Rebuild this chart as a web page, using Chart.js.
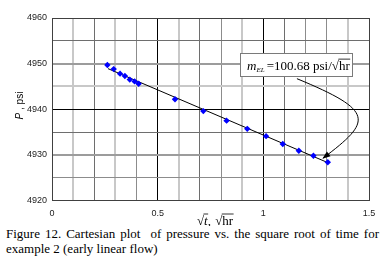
<!DOCTYPE html>
<html>
<head>
<meta charset="utf-8">
<script src="https://cdn.jsdelivr.net/npm/chart.js@4.4.0/dist/chart.umd.min.js"></script>
<style>
  body { margin: 0; background: #fff; }
  #wrap { position: relative; width: 390px; height: 267px; }
  #chart { position: absolute; left: 0; top: 0; }
  .cap { position: absolute; left: 6px; width: 373px; font: 13px 'Liberation Serif', 'Times New Roman', serif; line-height: 15.4px; color: #000; white-space: nowrap; }
  #cap1 { top: 226px; text-align: justify; text-align-last: justify; white-space: normal; }
  #cap2 { top: 241.4px; }
</style>
</head>
<body>
<div id="wrap">
  <canvas id="chart" width="390" height="226"></canvas>
  <div class="cap" id="cap1">Figure 12. Cartesian plot &nbsp;of pressure vs. the square root of time for</div>
  <div class="cap" id="cap2">example 2 (early linear flow)</div>
</div>
<script>
// measured points (sqrt hr, psi)
const sqrtT = [0.262, 0.292, 0.322, 0.345, 0.368, 0.391, 0.410, 0.582, 0.716, 0.826, 0.924, 1.013, 1.092, 1.168, 1.237, 1.305];
const pressure = [4949.7, 4948.8, 4947.8, 4947.3, 4946.5, 4946.1, 4945.6, 4942.2, 4939.6, 4937.5, 4935.7, 4934.1, 4932.4, 4930.9, 4929.8, 4928.4];

// straight line fit drawn through the early points
const fitX = [0.265, 1.305];
const fitY = [4948.9, 4928.3];

const xTicks = [0, 0.5, 1, 1.5];
const xTickLabels = ['0', '0.5', '1', '1.5'];
const yTicks = [4920, 4930, 4940, 4950, 4960];
const yTickLabels = ['4920', '4930', '4940', '4950', '4960'];

const slopeLabel = '=100.68 psi/';

// grid tones (the scanned figure has uneven grid lines)
const tones = {
    L: ['#c8c8c8', 2], D: ['#6e6e6e', 1], M: ['#8c8c8c', 1], W: ['#9c9c9c', 2], K: ['#000000', 1], E: ['#404040', 1]
};
const xTone = 'ELDLMKLDMLKDMMLE';
const yTone = { 4920: 'E', 4925: 'M', 4930: 'W', 4935: 'D', 4940: 'K', 4945: 'L', 4950: 'W', 4955: 'D', 4960: 'E' };
function gridStyle(axis, v, i) {
    const t = axis === 'x' ? xTone[Math.round(v * 10)] : yTone[Math.round(v)];
    return tones[t || 'M'][i];
}

function labelFor(ticks, labels, v) {
    const i = ticks.findIndex(t => Math.abs(t - v) < 1e-6);
    return i < 0 ? '' : labels[i];
}

// draws a square-root sign with overline, returns end x
function drawRoot(ctx, x0, base, text, font) {
    ctx.font = font;
    const rw = ctx.measureText('\u221A').width;
    const asc = ctx.measureText('\u221A').actualBoundingBoxAscent;
    ctx.fillText('\u221A', x0, base);
    const tw = ctx.measureText(text).width;
    ctx.fillText(text, x0 + rw, base);
    ctx.beginPath();
    ctx.lineWidth = 0.8;
    ctx.moveTo(x0 + rw - 0.5, base - asc + 0.5);
    ctx.lineTo(x0 + rw + tw + 0.5, base - asc + 0.5);
    ctx.stroke();
    return x0 + rw + tw;
}

const decor = {
    id: 'decor',
    afterDraw(chart) {
        const ctx = chart.ctx;
        const xs = chart.scales.x, ys = chart.scales.y;
        const px = v => xs.getPixelForValue(v);
        const py = v => ys.getPixelForValue(v);
        ctx.save();
        ctx.fillStyle = '#000';
        ctx.strokeStyle = '#000';
        ctx.textBaseline = 'alphabetic';

        // y title
        ctx.save();
        ctx.translate(22.5, 105.5);
        ctx.rotate(-Math.PI / 2);
        ctx.font = 'italic 10px "Liberation Sans", Arial';
        const pw = ctx.measureText('P').width;
        ctx.font = '10px "Liberation Sans", Arial';
        const rest = ' , psi';
        const totw = pw + ctx.measureText(rest).width;
        ctx.font = 'italic 10px "Liberation Sans", Arial';
        ctx.fillText('P', -totw / 2, 0);
        ctx.font = '10px "Liberation Sans", Arial';
        ctx.fillText(rest, -totw / 2 + pw, 0);
        ctx.restore();

        // x title
        const serif = '"Liberation Serif", "Times New Roman", serif';
        ctx.font = '13px ' + serif;
        const rootW = ctx.measureText('\u221A').width;
        ctx.font = 'italic 13px ' + serif;
        const tW = ctx.measureText('t').width;
        ctx.font = '13px ' + serif;
        const sepW = ctx.measureText(', ').width + 1;
        const hrW = ctx.measureText('hr').width;
        const full = rootW * 2 + tW + sepW + hrW;
        let cx = 215 - full / 2;
        const tb = 224.5;
        cx = drawRoot(ctx, cx, tb, 't', 'italic 13px ' + serif);
        ctx.font = '13px ' + serif;
        ctx.fillText(',', cx, tb);
        cx += sepW;
        drawRoot(ctx, cx, tb, 'hr', '13px ' + serif);

        // annotation box
        const bx0 = px(0.890), by0 = py(4952.3), bx1 = px(1.421), by1 = py(4947.2);
        ctx.fillStyle = '#fff';
        ctx.fillRect(bx0, by0, bx1 - bx0, by1 - by0);
        ctx.strokeStyle = '#7a7a7a';
        ctx.lineWidth = 1;
        ctx.strokeRect(Math.round(bx0) + 0.5, Math.round(by0) + 0.5, Math.round(bx1 - bx0), Math.round(by1 - by0));
        ctx.fillStyle = '#000';
        ctx.strokeStyle = '#000';
        const ab = by0 + 16.5;
        let ax = bx0 + 7;
        ctx.font = 'italic 13px ' + serif;
        ctx.fillText('m', ax, ab);
        ax += ctx.measureText('m').width;
        ctx.font = 'italic 7px ' + serif;
        ctx.fillText('EL', ax, ab + 2);
        ax += ctx.measureText('EL').width + 2;
        ctx.font = '13px ' + serif;
        ctx.fillText(slopeLabel, ax, ab);
        ax += ctx.measureText(slopeLabel).width;
        drawRoot(ctx, ax, ab, 'hr', '13px ' + serif);

        // curved arrow from box to the last points
        const p0 = [px(1.159), py(4946.7)];
        const c1 = [px(1.530), py(4939.6)];
        const c2 = [px(1.515), py(4937.4)];
        const p3 = [px(1.283), py(4929.3)];
        ctx.beginPath();
        ctx.lineWidth = 1;
        ctx.moveTo(p0[0], p0[1]);
        ctx.bezierCurveTo(c1[0], c1[1], c2[0], c2[1], p3[0], p3[1]);
        ctx.stroke();
        const ang = Math.atan2(p3[1] - c2[1], p3[0] - c2[0]);
        ctx.save();
        ctx.translate(p3[0], p3[1]);
        ctx.rotate(ang);
        ctx.beginPath();
        ctx.moveTo(1, 0);
        ctx.lineTo(-7, -3);
        ctx.lineTo(-7, 3);
        ctx.closePath();
        ctx.fill();
        ctx.restore();

        ctx.restore();
    }
};

Chart.defaults.font.family = '"Liberation Sans", Arial, sans-serif';
Chart.defaults.color = '#222';

new Chart(document.getElementById('chart'), {
    type: 'scatter',
    data: {
        datasets: [{
            data: sqrtT.map((v, i) => ({ x: v, y: pressure[i] })),
            pointStyle: 'rectRot',
            pointRadius: 3.2,
            backgroundColor: '#0000ff',
            borderColor: '#0000ff',
            borderWidth: 0
        }, {
            data: fitX.map((v, i) => ({ x: v, y: fitY[i] })),
            showLine: true,
            pointRadius: 0,
            borderColor: '#000',
            borderWidth: 1
        }]
    },
    options: {
        responsive: false,
        devicePixelRatio: 1,
        animation: false,
        layout: { padding: { left: 0, top: 18, right: 21, bottom: 0 } },
        plugins: { legend: { display: false }, tooltip: { enabled: false } },
        scales: {
            x: {
                type: 'linear', min: 0, max: 1.5,
                afterFit: s => { s.height = 25.5; },
                ticks: {
                    stepSize: 0.1, padding: 8, maxRotation: 0, autoSkip: false,
                    font: { size: 9 },
                    callback: v => labelFor(xTicks, xTickLabels, v)
                },
                grid: {
                    drawTicks: false,
                    color: c => gridStyle('x', c.tick.value, 0),
                    lineWidth: c => gridStyle('x', c.tick.value, 1)
                },
                border: { color: '#404040', width: 1 }
            },
            y: {
                type: 'linear', min: 4920, max: 4960,
                afterFit: s => { s.width = 52; },
                ticks: {
                    stepSize: 5, padding: 5, autoSkip: false,
                    font: { size: 9 },
                    callback: v => labelFor(yTicks, yTickLabels, v)
                },
                grid: {
                    drawTicks: false,
                    color: c => gridStyle('y', c.tick.value, 0),
                    lineWidth: c => gridStyle('y', c.tick.value, 1)
                },
                border: { color: '#404040', width: 1 }
            }
        }
    },
    plugins: [decor]
});
</script>
</body>
</html>
